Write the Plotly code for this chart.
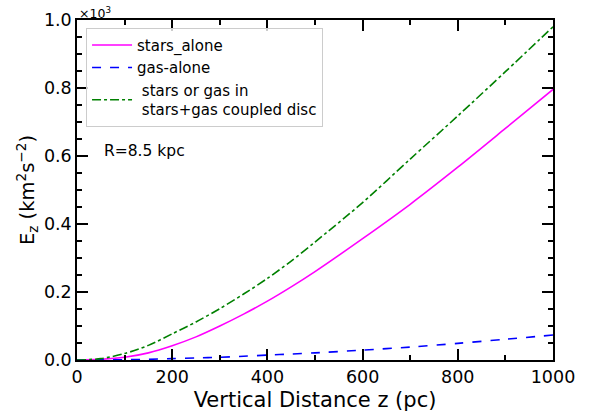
import plotly.graph_objects as go

z = [0, 50, 100, 150, 200, 250, 300, 350, 400, 450, 500, 600, 700, 800, 900, 1000]
stars_alone = [0.0, 0.002, 0.008, 0.021, 0.042, 0.068, 0.100, 0.135, 0.173, 0.215, 0.260, 0.357, 0.458, 0.567, 0.681, 0.796]
gas_alone = [0.0, 0.0003, 0.001, 0.002, 0.004, 0.006, 0.008, 0.011, 0.0145, 0.0175, 0.021, 0.029, 0.038, 0.049, 0.061, 0.0735]
coupled = [0.0, 0.004, 0.019, 0.043, 0.077, 0.112, 0.151, 0.194, 0.240, 0.291, 0.347, 0.463, 0.591, 0.718, 0.848, 0.980]

names = ["stars_alone", "gas-alone", " stars or gas in<br> stars+gas coupled disc"]

fig = go.Figure()
fig.add_trace(go.Scatter(x=z, y=stars_alone, mode="lines", name=names[0],
                         line=dict(color="#ff00ff", width=1.6, shape="spline", smoothing=0.8)))
fig.add_trace(go.Scatter(x=z, y=gas_alone, mode="lines", name=names[1],
                         line=dict(color="#0000ff", width=1.6, dash="dash", shape="spline", smoothing=0.8)))
fig.add_trace(go.Scatter(x=z, y=coupled, mode="lines", name=names[2],
                         line=dict(color="#008000", width=1.6, dash="dashdot", shape="spline", smoothing=0.8)))

axis_common = dict(
    showgrid=False, zeroline=False, showline=True, linecolor="black", linewidth=1.5,
    mirror="allticks", ticks="inside", ticklen=11, tickwidth=2, tickcolor="black",
    tickfont=dict(family="DejaVu Sans", size=17.5, color="black"), automargin=False,
)

fig.update_xaxes(
    range=[0, 1000], tickvals=[0, 200, 400, 600, 800, 1000],
    minor=dict(ticks="inside", ticklen=5, tickwidth=1.5, tickcolor="black", dtick=100, tick0=0),
    title=dict(text="Vertical Distance z (pc)", font=dict(family="DejaVu Sans", size=21, color="black"), standoff=7),
    **axis_common,
)
fig.update_yaxes(
    range=[0, 1.0], tickvals=[0, 0.2, 0.4, 0.6, 0.8, 1.0], tickformat=".1f",
    minor=dict(ticks="inside", ticklen=5, tickwidth=1.5, tickcolor="black", dtick=0.05, tick0=0),
    title=dict(text="E<sub>z</sub> (km<sup>2</sup>s<sup>−2</sup>)", font=dict(family="DejaVu Sans", size=19.5, color="black"), standoff=4),
    **axis_common,
)

fig.update_layout(
    width=597, height=414,
    margin=dict(l=77, r=44, t=20, b=54),
    plot_bgcolor="white", paper_bgcolor="white",
    font=dict(family="DejaVu Sans", color="black"),
    legend=dict(x=0.019, y=0.977, xanchor="left", yanchor="top",
                bgcolor="rgba(255,255,255,0.8)", bordercolor="#cccccc", borderwidth=1,
                font=dict(family="DejaVu Sans", size=15, color="black"),
                itemwidth=40),
    annotations=[
        dict(text="R=8.5 kpc", x=0.052, y=0.615, xref="paper", yref="paper",
             xanchor="left", yanchor="middle", showarrow=False,
             font=dict(family="DejaVu Sans", size=15.5, color="black")),
        dict(text="×10<sup>3</sup>", x=0.0, y=1.0, xref="paper", yref="paper",
             xanchor="left", yanchor="bottom", showarrow=False, yshift=-3,
             font=dict(family="DejaVu Sans", size=12.5, color="black")),
    ],
    showlegend=True,
)

fig.write_html("out.html")
